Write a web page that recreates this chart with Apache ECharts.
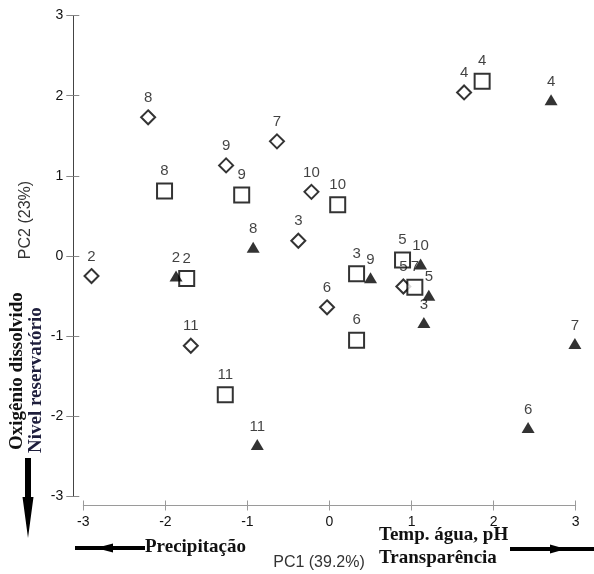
<!DOCTYPE html>
<html>
<head>
<meta charset="utf-8">
<script src="https://cdn.jsdelivr.net/npm/echarts@6/dist/echarts.min.js"></script>
<style>
html,body{margin:0;padding:0;background:#fff;}
#chart{width:594px;height:574px;}
</style>
</head>
<body>
<div id="chart"></div>
<script>
// Diamonds (open)
const monthsDiamond = [2, 3, 4, 5, 6, 7, 8, 9, 10, 11];
const pc1Diamond = [-2.90, -0.38, 1.64, 0.90, -0.03, -0.64, -2.21, -1.26, -0.22, -1.69];
const pc2Diamond = [-0.25, 0.19, 2.04, -0.38, -0.64, 1.43, 1.73, 1.13, 0.80, -1.12];
// Squares (open)
const monthsSquare = [2, 3, 4, 5, 6, 7, 8, 9, 10, 11];
const pc1Square = [-1.74, 0.33, 1.86, 0.89, 0.33, 1.04, -2.01, -1.07, 0.10, -1.27];
const pc2Square = [-0.28, -0.22, 2.18, -0.05, -1.05, -0.39, 0.81, 0.76, 0.64, -1.73];
// Triangles (filled)
const monthsTriangle = [2, 3, 4, 5, 6, 7, 8, 9, 10, 11];
const pc1Triangle = [-1.87, 1.15, 2.70, 1.21, 2.42, 2.99, -0.93, 0.50, 1.11, -0.88];
const pc2Triangle = [-0.25, -0.83, 1.95, -0.49, -2.14, -1.09, 0.11, -0.27, -0.10, -2.35];

const axisTicks = [-3, -2, -1, 0, 1, 2, 3];
const xAxisName = 'PC1 (39.2%)';
const yAxisName = 'PC2 (23%)';

function build(xs, ys, ms) {
  return xs.map((x, i) => ({ value: [x, ys[i]], name: String(ms[i]) }));
}

const sans = '"Liberation Sans", Arial, sans-serif';
const serif = '"Liberation Serif", "Times New Roman", serif';

const labelCfg = {
  show: true, position: 'top', distance: 4,
  formatter: p => p.name,
  fontFamily: sans, fontSize: 15, color: '#111'
};

const chart = echarts.init(document.getElementById('chart'), null, { renderer: 'canvas' });

const baseX = {
  type: 'value', min: axisTicks[0], max: axisTicks[axisTicks.length - 1], interval: 1,
  position: 'bottom', offset: 9, splitLine: { show: false }
};
const baseY = {
  type: 'value', min: axisTicks[0], max: axisTicks[axisTicks.length - 1], interval: 1,
  position: 'left', offset: 10, splitLine: { show: false }
};

chart.setOption({
  animation: false,
  backgroundColor: '#fff',
  grid: { left: 83.3, right: 18.3, top: 15.5, bottom: 77.5, containLabel: false },
  xAxis: [
    Object.assign({}, baseX, {
      axisLine: { show: true, onZero: false, lineStyle: { color: '#9a9a9a', width: 1 } },
      axisTick: { show: true, inside: false, length: 5, lineStyle: { color: '#9a9a9a' } },
      axisLabel: { show: true, margin: 10, fontFamily: sans, fontSize: 14, color: '#111' }
    }),
    Object.assign({}, baseX, {
      axisLine: { show: false, onZero: false },
      axisTick: { show: true, inside: true, length: 5, lineStyle: { color: '#9a9a9a' } },
      axisLabel: { show: false }
    })
  ],
  yAxis: [
    Object.assign({}, baseY, {
      axisLine: { show: true, onZero: false, lineStyle: { color: '#444', width: 1 } },
      axisTick: { show: true, inside: false, length: 7, lineStyle: { color: '#888' } },
      axisLabel: { show: true, margin: 10, fontFamily: sans, fontSize: 14, color: '#111' }
    }),
    Object.assign({}, baseY, {
      axisLine: { show: false, onZero: false },
      axisTick: { show: true, inside: true, length: 6, lineStyle: { color: '#888' } },
      axisLabel: { show: false }
    })
  ],
  series: [
    {
      type: 'scatter', xAxisIndex: 0, yAxisIndex: 0,
      symbol: 'diamond', symbolSize: [14, 14],
      itemStyle: { color: '#fff', borderColor: '#000', borderWidth: 2 },
      label: labelCfg,
      data: build(pc1Diamond, pc2Diamond, monthsDiamond)
    },
    {
      type: 'scatter', xAxisIndex: 0, yAxisIndex: 0,
      symbol: 'rect', symbolSize: 15,
      itemStyle: { color: '#fff', borderColor: '#000', borderWidth: 2 },
      label: labelCfg,
      data: build(pc1Square, pc2Square, monthsSquare)
    },
    {
      type: 'scatter', xAxisIndex: 0, yAxisIndex: 0,
      symbol: 'triangle', symbolSize: [13, 11],
      itemStyle: { color: '#000', borderWidth: 0 },
      label: Object.assign({}, labelCfg, { distance: 5 }),
      data: build(pc1Triangle, pc2Triangle, monthsTriangle)
    }
  ],
  graphic: [
    // axis titles
    { type: 'text', x: 319, y: 563, style: { text: xAxisName, font: '16px ' + sans, fill: '#333', textAlign: 'center', textVerticalAlign: 'middle' } },
    { type: 'text', x: 26, y: 220, rotation: Math.PI / 2, style: { text: yAxisName, font: '16px ' + sans, fill: '#333', textAlign: 'center', textVerticalAlign: 'middle' } },
    // vertical annotations
    { type: 'text', x: 17, y: 450, rotation: Math.PI / 2, style: { text: 'Oxigênio dissolvido', font: 'bold 19px ' + serif, fill: '#111', textAlign: 'left', textVerticalAlign: 'middle' } },
    { type: 'text', x: 36, y: 453, rotation: Math.PI / 2, style: { text: 'Nivel reservatório', font: 'bold 19px ' + serif, fill: '#1e1e3c', textAlign: 'left', textVerticalAlign: 'middle' } },
    // down arrow
    { type: 'polygon', shape: { points: [[25, 458], [31, 458], [31, 497], [33.5, 497], [28, 538], [22.5, 497], [25, 497]] }, style: { fill: '#000' } },
    // left arrow
    { type: 'line', shape: { x1: 145, y1: 548, x2: 75, y2: 548 }, style: { stroke: '#000', lineWidth: 4 } },
    { type: 'polygon', shape: { points: [[96, 548], [113, 543.5], [113, 552.5]] }, style: { fill: '#000' } },
    // right arrow
    { type: 'line', shape: { x1: 510, y1: 549, x2: 594, y2: 549 }, style: { stroke: '#000', lineWidth: 4 } },
    { type: 'polygon', shape: { points: [[566, 549], [550, 544.5], [550, 553.5]] }, style: { fill: '#000' } },
    // horizontal annotations
    { type: 'text', x: 145, y: 547, style: { text: 'Precipitação', font: 'bold 19px ' + serif, fill: '#111', textAlign: 'left', textVerticalAlign: 'middle' } },
    { type: 'text', x: 379, y: 535, style: { text: 'Temp. água, pH', font: 'bold 19px ' + serif, fill: '#111', textAlign: 'left', textVerticalAlign: 'middle' } },
    { type: 'text', x: 379, y: 558, style: { text: 'Transparência', font: 'bold 19px ' + serif, fill: '#111', textAlign: 'left', textVerticalAlign: 'middle' } }
  ]
});
</script>
</body>
</html>
